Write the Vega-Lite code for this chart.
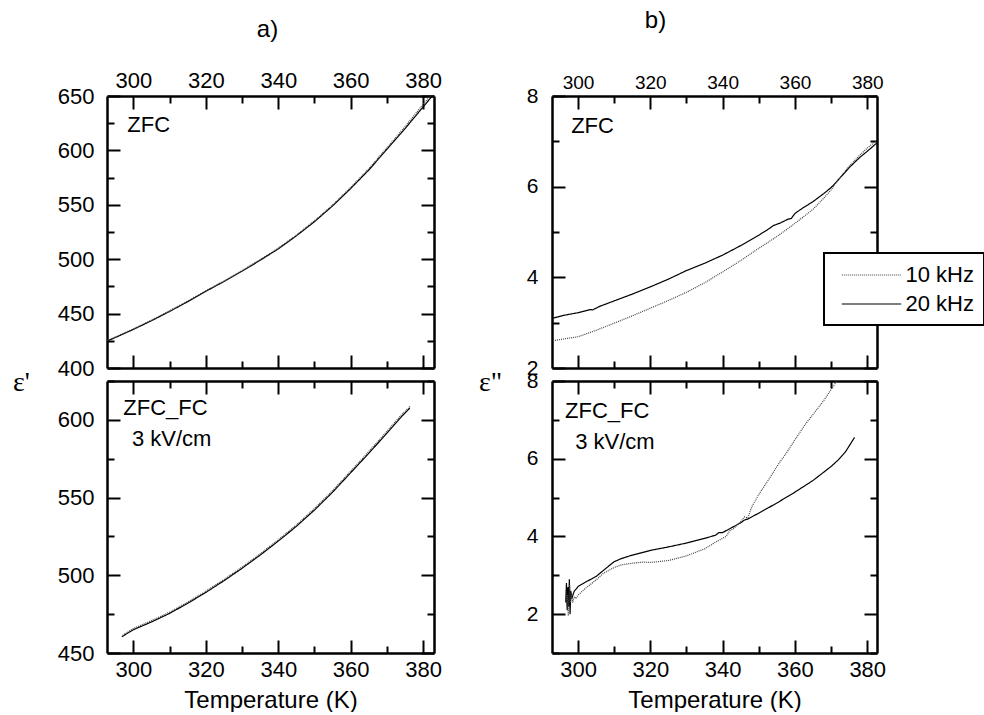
{
"$schema":"https://vega.github.io/schema/vega-lite/v6.json",
"padding":{"left":12,"top":9,"right":0,"bottom":0},
"datasets":{
"tl":[
{"f":"20 kHz","T":292.8,"e":424.8},{"f":"20 kHz","T":295,"e":428},{"f":"20 kHz","T":300,"e":435.5},{"f":"20 kHz","T":305,"e":443.5},{"f":"20 kHz","T":310,"e":452},{"f":"20 kHz","T":315,"e":461},{"f":"20 kHz","T":320,"e":470.5},{"f":"20 kHz","T":325,"e":479.5},{"f":"20 kHz","T":330,"e":489},{"f":"20 kHz","T":335,"e":499},{"f":"20 kHz","T":340,"e":509.5},{"f":"20 kHz","T":345,"e":521.5},{"f":"20 kHz","T":350,"e":534.5},{"f":"20 kHz","T":355,"e":549},{"f":"20 kHz","T":360,"e":565},{"f":"20 kHz","T":365,"e":582},{"f":"20 kHz","T":370,"e":601},{"f":"20 kHz","T":375,"e":620},{"f":"20 kHz","T":380,"e":640},{"f":"20 kHz","T":382.8,"e":651},
{"f":"10 kHz","T":292.8,"e":425.2},{"f":"10 kHz","T":295,"e":428.5},{"f":"10 kHz","T":300,"e":436},{"f":"10 kHz","T":305,"e":444},{"f":"10 kHz","T":310,"e":452.6},{"f":"10 kHz","T":315,"e":461.6},{"f":"10 kHz","T":320,"e":471},{"f":"10 kHz","T":325,"e":480},{"f":"10 kHz","T":330,"e":489.6},{"f":"10 kHz","T":335,"e":499.6},{"f":"10 kHz","T":340,"e":510.2},{"f":"10 kHz","T":345,"e":522.2},{"f":"10 kHz","T":350,"e":535.3},{"f":"10 kHz","T":355,"e":549.8},{"f":"10 kHz","T":360,"e":566},{"f":"10 kHz","T":365,"e":583.2},{"f":"10 kHz","T":370,"e":602.4},{"f":"10 kHz","T":375,"e":621.8},{"f":"10 kHz","T":380,"e":642.5},{"f":"10 kHz","T":382.5,"e":652}
],
"bl":[
{"f":"20 kHz","T":296.8,"e":460.5},{"f":"20 kHz","T":300,"e":465},{"f":"20 kHz","T":305,"e":470},{"f":"20 kHz","T":310,"e":475.5},{"f":"20 kHz","T":315,"e":482},{"f":"20 kHz","T":320,"e":489},{"f":"20 kHz","T":325,"e":496.5},{"f":"20 kHz","T":330,"e":504.5},{"f":"20 kHz","T":335,"e":513},{"f":"20 kHz","T":340,"e":522},{"f":"20 kHz","T":345,"e":531.5},{"f":"20 kHz","T":350,"e":542},{"f":"20 kHz","T":355,"e":553.5},{"f":"20 kHz","T":360,"e":566},{"f":"20 kHz","T":365,"e":578.5},{"f":"20 kHz","T":370,"e":591.5},{"f":"20 kHz","T":374,"e":602},{"f":"20 kHz","T":376.3,"e":607.5},
{"f":"10 kHz","T":297,"e":461.3},{"f":"10 kHz","T":300,"e":465.8},{"f":"10 kHz","T":305,"e":470.8},{"f":"10 kHz","T":310,"e":476.3},{"f":"10 kHz","T":315,"e":482.8},{"f":"10 kHz","T":320,"e":489.8},{"f":"10 kHz","T":325,"e":497.3},{"f":"10 kHz","T":330,"e":505.3},{"f":"10 kHz","T":335,"e":513.8},{"f":"10 kHz","T":340,"e":522.9},{"f":"10 kHz","T":345,"e":532.4},{"f":"10 kHz","T":350,"e":543},{"f":"10 kHz","T":355,"e":554.5},{"f":"10 kHz","T":360,"e":567},{"f":"10 kHz","T":365,"e":579.6},{"f":"10 kHz","T":370,"e":592.7},{"f":"10 kHz","T":374,"e":603.2},{"f":"10 kHz","T":376.5,"e":608.8}
],
"tr":[
{"f":"20 kHz","T":293.1,"e":3.1},{"f":"20 kHz","T":296,"e":3.16},{"f":"20 kHz","T":300,"e":3.22},{"f":"20 kHz","T":303.5,"e":3.29},{"f":"20 kHz","T":304,"e":3.28},{"f":"20 kHz","T":306,"e":3.36},{"f":"20 kHz","T":310,"e":3.48},{"f":"20 kHz","T":315,"e":3.63},{"f":"20 kHz","T":320,"e":3.79},{"f":"20 kHz","T":325,"e":3.96},{"f":"20 kHz","T":330,"e":4.15},{"f":"20 kHz","T":335,"e":4.31},{"f":"20 kHz","T":340,"e":4.49},{"f":"20 kHz","T":345,"e":4.7},{"f":"20 kHz","T":350,"e":4.93},{"f":"20 kHz","T":353,"e":5.08},{"f":"20 kHz","T":354,"e":5.14},{"f":"20 kHz","T":356,"e":5.2},{"f":"20 kHz","T":358,"e":5.28},{"f":"20 kHz","T":359,"e":5.3},{"f":"20 kHz","T":360,"e":5.41},{"f":"20 kHz","T":362,"e":5.52},{"f":"20 kHz","T":365,"e":5.67},{"f":"20 kHz","T":368,"e":5.85},{"f":"20 kHz","T":370,"e":5.98},{"f":"20 kHz","T":372,"e":6.15},{"f":"20 kHz","T":375,"e":6.42},{"f":"20 kHz","T":378,"e":6.65},{"f":"20 kHz","T":380,"e":6.78},{"f":"20 kHz","T":382.6,"e":6.96},
{"f":"10 kHz","T":293.1,"e":2.6},{"f":"10 kHz","T":296,"e":2.64},{"f":"10 kHz","T":300,"e":2.69},{"f":"10 kHz","T":305,"e":2.83},{"f":"10 kHz","T":310,"e":2.99},{"f":"10 kHz","T":315,"e":3.15},{"f":"10 kHz","T":320,"e":3.32},{"f":"10 kHz","T":325,"e":3.49},{"f":"10 kHz","T":330,"e":3.67},{"f":"10 kHz","T":335,"e":3.88},{"f":"10 kHz","T":340,"e":4.12},{"f":"10 kHz","T":345,"e":4.37},{"f":"10 kHz","T":350,"e":4.64},{"f":"10 kHz","T":355,"e":4.9},{"f":"10 kHz","T":360,"e":5.19},{"f":"10 kHz","T":365,"e":5.5},{"f":"10 kHz","T":368,"e":5.75},{"f":"10 kHz","T":370,"e":5.93},{"f":"10 kHz","T":372,"e":6.15},{"f":"10 kHz","T":375,"e":6.45},{"f":"10 kHz","T":378,"e":6.7},{"f":"10 kHz","T":380,"e":6.85},{"f":"10 kHz","T":382.3,"e":7.0}
],
"br":[
{"f":"20 kHz","T":296.6,"e":2.3},{"f":"20 kHz","T":296.8,"e":2.8},{"f":"20 kHz","T":297.0,"e":2.1},{"f":"20 kHz","T":297.2,"e":2.7},{"f":"20 kHz","T":297.4,"e":2.2},{"f":"20 kHz","T":297.6,"e":2.9},{"f":"20 kHz","T":297.8,"e":2.0},{"f":"20 kHz","T":298.0,"e":2.6},{"f":"20 kHz","T":298.3,"e":2.4},{"f":"20 kHz","T":298.6,"e":2.5},{"f":"20 kHz","T":299,"e":2.6},{"f":"20 kHz","T":299.5,"e":2.65},{"f":"20 kHz","T":300,"e":2.71},{"f":"20 kHz","T":302,"e":2.82},{"f":"20 kHz","T":305,"e":2.97},{"f":"20 kHz","T":308,"e":3.2},{"f":"20 kHz","T":310,"e":3.35},{"f":"20 kHz","T":312,"e":3.43},{"f":"20 kHz","T":315,"e":3.52},{"f":"20 kHz","T":320,"e":3.64},{"f":"20 kHz","T":325,"e":3.73},{"f":"20 kHz","T":330,"e":3.83},{"f":"20 kHz","T":335,"e":3.95},{"f":"20 kHz","T":338,"e":4.03},{"f":"20 kHz","T":339,"e":4.1},{"f":"20 kHz","T":340,"e":4.1},{"f":"20 kHz","T":342,"e":4.2},{"f":"20 kHz","T":345,"e":4.35},{"f":"20 kHz","T":346,"e":4.42},{"f":"20 kHz","T":347,"e":4.45},{"f":"20 kHz","T":348,"e":4.5},{"f":"20 kHz","T":350,"e":4.6},{"f":"20 kHz","T":355,"e":4.86},{"f":"20 kHz","T":360,"e":5.14},{"f":"20 kHz","T":365,"e":5.44},{"f":"20 kHz","T":370,"e":5.8},{"f":"20 kHz","T":372,"e":5.97},{"f":"20 kHz","T":374,"e":6.18},{"f":"20 kHz","T":376.5,"e":6.55},
{"f":"10 kHz","T":296.7,"e":2.6},{"f":"10 kHz","T":296.9,"e":2.2},{"f":"10 kHz","T":297.1,"e":2.5},{"f":"10 kHz","T":297.3,"e":1.95},{"f":"10 kHz","T":297.5,"e":2.4},{"f":"10 kHz","T":297.7,"e":2.75},{"f":"10 kHz","T":297.9,"e":2.3},{"f":"10 kHz","T":298.2,"e":2.5},{"f":"10 kHz","T":298.5,"e":2.3},{"f":"10 kHz","T":299,"e":2.45},{"f":"10 kHz","T":299.5,"e":2.4},{"f":"10 kHz","T":300,"e":2.49},{"f":"10 kHz","T":302,"e":2.66},{"f":"10 kHz","T":305,"e":2.88},{"f":"10 kHz","T":307,"e":3.05},{"f":"10 kHz","T":310,"e":3.2},{"f":"10 kHz","T":312,"e":3.27},{"f":"10 kHz","T":315,"e":3.31},{"f":"10 kHz","T":318,"e":3.34},{"f":"10 kHz","T":320,"e":3.33},{"f":"10 kHz","T":325,"e":3.38},{"f":"10 kHz","T":330,"e":3.5},{"f":"10 kHz","T":335,"e":3.68},{"f":"10 kHz","T":338,"e":3.85},{"f":"10 kHz","T":340,"e":3.95},{"f":"10 kHz","T":341,"e":4.0},{"f":"10 kHz","T":342,"e":4.15},{"f":"10 kHz","T":343,"e":4.2},{"f":"10 kHz","T":345,"e":4.38},{"f":"10 kHz","T":346,"e":4.5},{"f":"10 kHz","T":347,"e":4.48},{"f":"10 kHz","T":348,"e":4.75},{"f":"10 kHz","T":350,"e":5.08},{"f":"10 kHz","T":353,"e":5.5},{"f":"10 kHz","T":355,"e":5.8},{"f":"10 kHz","T":358,"e":6.2},{"f":"10 kHz","T":360,"e":6.49},{"f":"10 kHz","T":363,"e":6.9},{"f":"10 kHz","T":365,"e":7.14},{"f":"10 kHz","T":368,"e":7.5},{"f":"10 kHz","T":370,"e":7.78},{"f":"10 kHz","T":373,"e":8.2}
],
"notes":[
{"panel":"tl","T":298.3,"e":617,"label":"ZFC"},
{"panel":"bl","T":297.2,"e":603.3,"label":"ZFC_FC"},
{"panel":"bl","T":299.6,"e":583.3,"label":"3 kV/cm"},
{"panel":"tr","T":298.1,"e":7.18,"label":"ZFC"},
{"panel":"br","T":296.4,"e":7.04,"label":"ZFC_FC"},
{"panel":"br","T":299.2,"e":6.24,"label":"3 kV/cm"}
]
},
"resolve":{"scale":{"color":"independent","strokeDash":"independent"},"legend":{"color":"independent","strokeDash":"independent"}},
"hconcat":[
{"vconcat":[
{"width":327,"height":272,
"title":{"text":"a)","fontSize":24,"offset":21,"frame":"group","dx":-3},
"layer":[
{"data":{"name":"tl"},"mark":{"type":"line","clip":true,"strokeWidth":1.2},
"encoding":{
"x":{"field":"T","type":"quantitative","scale":{"domain":[292.7,383],"nice":false,"zero":false},
"axis":{"orient":"top","title":null,"values":[300,310,320,330,340,350,360,370,380],"labelExpr":"datum.value % 20 == 0 ? datum.label : ''","tickSize":{"condition":{"test":"datum.value % 20 != 0","value":-7},"value":-13},"labelFontSize":22,"labelPadding":17}},
"y":{"field":"e","type":"quantitative","scale":{"domain":[400,650],"nice":false,"zero":false},
"axis":{"orient":"left","title":"ε'","titleAngle":0,"titleX":-86,"titleY":286,"titleAlign":"center","titleBaseline":"middle","titleFont":"Liberation Serif","titleFontSize":28,"values":[400,425,450,475,500,525,550,575,600,625,650],"labelExpr":"datum.value % 50 == 0 ? datum.label : ''","tickSize":{"condition":{"test":"datum.value % 50 != 0","value":-7},"value":-13},"labelFontSize":22,"labelPadding":26}},
"color":{"field":"f","type":"nominal","scale":{"domain":["10 kHz","20 kHz"],"range":["#444444","#000000"]},"legend":null},
"strokeDash":{"field":"f","type":"nominal","scale":{"domain":["10 kHz","20 kHz"],"range":[[1,1],[1,0]]},"legend":null}}},
{"data":{"name":"notes"},"transform":[{"filter":"datum.panel == 'tl'"}],"mark":{"type":"text","align":"left","baseline":"alphabetic","fontSize":22,"font":"Liberation Sans","color":"black"},
"encoding":{
"x":{"field":"T","type":"quantitative","scale":{"domain":[292.7,383],"nice":false,"zero":false},
"axis":{"orient":"bottom","title":null,"labels":false,"values":[300,310,320,330,340,350,360,370,380],"tickSize":{"condition":{"test":"datum.value % 20 != 0","value":-7},"value":-13}}},
"y":{"field":"e","type":"quantitative","scale":{"domain":[400,650],"nice":false,"zero":false},
"axis":{"orient":"right","title":null,"labels":false,"values":[400,425,450,475,500,525,550,575,600,625,650],"tickSize":{"condition":{"test":"datum.value % 50 != 0","value":-7},"value":-13}}},
"text":{"field":"label"}}}
],
"resolve":{"scale":{"x":"independent","y":"independent"}}
},
{"width":327,"height":272,
"layer":[
{"data":{"name":"bl"},"mark":{"type":"line","clip":true,"strokeWidth":1.2},
"encoding":{
"x":{"field":"T","type":"quantitative","scale":{"domain":[292.7,383],"nice":false,"zero":false},
"axis":{"orient":"bottom","title":"Temperature (K)","titleFontSize":24,"titlePadding":2,"values":[300,310,320,330,340,350,360,370,380],"labelExpr":"datum.value % 20 == 0 ? datum.label : ''","tickSize":{"condition":{"test":"datum.value % 20 != 0","value":-7},"value":-13},"labelFontSize":22,"labelPadding":19}},
"y":{"field":"e","type":"quantitative","scale":{"domain":[450,625],"nice":false,"zero":false},
"axis":{"orient":"left","title":null,"values":[450,475,500,525,550,575,600,625],"labelExpr":"datum.value % 50 == 0 ? datum.label : ''","tickSize":{"condition":{"test":"datum.value % 50 != 0","value":-7},"value":-13},"labelFontSize":22,"labelPadding":26}},
"color":{"field":"f","type":"nominal","scale":{"domain":["10 kHz","20 kHz"],"range":["#444444","#000000"]},"legend":null},
"strokeDash":{"field":"f","type":"nominal","scale":{"domain":["10 kHz","20 kHz"],"range":[[1,1],[1,0]]},"legend":null}}},
{"data":{"name":"notes"},"transform":[{"filter":"datum.panel == 'bl'"}],"mark":{"type":"text","align":"left","baseline":"alphabetic","fontSize":22,"font":"Liberation Sans","color":"black"},
"encoding":{
"x":{"field":"T","type":"quantitative","scale":{"domain":[292.7,383],"nice":false,"zero":false},
"axis":{"orient":"top","title":null,"labels":false,"values":[300,310,320,330,340,350,360,370,380],"tickSize":{"condition":{"test":"datum.value % 20 != 0","value":-7},"value":-13}}},
"y":{"field":"e","type":"quantitative","scale":{"domain":[450,625],"nice":false,"zero":false},
"axis":{"orient":"right","title":null,"labels":false,"values":[450,475,500,525,550,575,600,625],"tickSize":{"condition":{"test":"datum.value % 50 != 0","value":-7},"value":-13}}},
"text":{"field":"label"}}}
],
"resolve":{"scale":{"x":"independent","y":"independent"}}
}
],
"spacing":13,"bounds":"flush",
"resolve":{"scale":{"color":"independent","strokeDash":"independent"},"legend":{"color":"independent","strokeDash":"independent"}}
},
{"vconcat":[
{"width":325,"height":272,
"title":{"text":"b)","fontSize":24,"offset":34,"frame":"group","dx":-59},
"layer":[
{"data":{"name":"tr"},"mark":{"type":"line","clip":true,"strokeWidth":1.2},
"encoding":{
"x":{"field":"T","type":"quantitative","scale":{"domain":[292.8,382.7],"nice":false,"zero":false},
"axis":{"orient":"top","title":null,"values":[300,310,320,330,340,350,360,370,380],"labelExpr":"datum.value % 20 == 0 ? datum.label : ''","tickSize":{"condition":{"test":"datum.value % 20 != 0","value":-7},"value":-13},"labelFontSize":19,"labelPadding":17}},
"y":{"field":"e","type":"quantitative","scale":{"domain":[2,8],"nice":false,"zero":false},
"axis":{"orient":"left","title":"ε\"","titleAngle":0,"titleX":-62,"titleY":286,"titleAlign":"center","titleBaseline":"middle","titleFont":"Liberation Serif","titleFontSize":28,"values":[2,3,4,5,6,7,8],"labelExpr":"datum.value % 2 == 0 ? datum.label : ''","tickSize":{"condition":{"test":"datum.value % 2 != 0","value":-7},"value":-13},"labelFontSize":21,"labelPadding":27}},
"color":{"field":"f","type":"nominal","scale":{"domain":["10 kHz","20 kHz"],"range":["#444444","#000000"]},
"legend":{"title":null,"orient":"none","legendX":272,"legendY":157,"symbolType":"M-2.7,0H2.7","symbolSize":484,"symbolStrokeWidth":1.2,"labelFontSize":22,"labelFont":"Liberation Sans","labelColor":"black","padding":10,"symbolOffset":25.5,"rowPadding":6,"strokeColor":"black","fillColor":"white","labelOffset":22}},
"strokeDash":{"field":"f","type":"nominal","scale":{"domain":["10 kHz","20 kHz"],"range":[[1,1],[1,0]]},
"legend":{"title":null,"orient":"none","legendX":272,"legendY":157,"symbolType":"M-2.7,0H2.7","symbolSize":484,"symbolStrokeWidth":1.2,"labelFontSize":22,"labelFont":"Liberation Sans","labelColor":"black","padding":10,"symbolOffset":25.5,"rowPadding":6,"strokeColor":"black","fillColor":"white","labelOffset":22}}}},
{"data":{"name":"notes"},"transform":[{"filter":"datum.panel == 'tr'"}],"mark":{"type":"text","align":"left","baseline":"alphabetic","fontSize":22,"font":"Liberation Sans","color":"black"},
"encoding":{
"x":{"field":"T","type":"quantitative","scale":{"domain":[292.8,382.7],"nice":false,"zero":false},
"axis":{"orient":"bottom","title":null,"labels":false,"values":[300,310,320,330,340,350,360,370,380],"tickSize":{"condition":{"test":"datum.value % 20 != 0","value":-7},"value":-13}}},
"y":{"field":"e","type":"quantitative","scale":{"domain":[2,8],"nice":false,"zero":false},
"axis":{"orient":"right","title":null,"labels":false,"values":[2,3,4,5,6,7,8],"tickSize":{"condition":{"test":"datum.value % 2 != 0","value":-7},"value":-13}}},
"text":{"field":"label"}}}
],
"resolve":{"scale":{"x":"independent","y":"independent"}}
},
{"width":325,"height":272,
"layer":[
{"data":{"name":"br"},"mark":{"type":"line","clip":true,"strokeWidth":1.2},
"encoding":{
"x":{"field":"T","type":"quantitative","scale":{"domain":[292.8,382.7],"nice":false,"zero":false},
"axis":{"orient":"bottom","title":"Temperature (K)","titleFontSize":24,"titlePadding":2,"values":[300,310,320,330,340,350,360,370,380],"labelExpr":"datum.value % 20 == 0 ? datum.label : ''","tickSize":{"condition":{"test":"datum.value % 20 != 0","value":-7},"value":-13},"labelFontSize":22,"labelPadding":19}},
"y":{"field":"e","type":"quantitative","scale":{"domain":[1,8],"nice":false,"zero":false},
"axis":{"orient":"left","title":null,"values":[1,2,3,4,5,6,7,8],"labelExpr":"datum.value % 2 == 0 ? datum.label : ''","tickSize":{"condition":{"test":"datum.value % 2 != 0","value":-7},"value":-13},"labelFontSize":21,"labelPadding":27}},
"color":{"field":"f","type":"nominal","scale":{"domain":["10 kHz","20 kHz"],"range":["#444444","#000000"]},"legend":null},
"strokeDash":{"field":"f","type":"nominal","scale":{"domain":["10 kHz","20 kHz"],"range":[[1,1],[1,0]]},"legend":null}}},
{"data":{"name":"notes"},"transform":[{"filter":"datum.panel == 'br'"}],"mark":{"type":"text","align":"left","baseline":"alphabetic","fontSize":22,"font":"Liberation Sans","color":"black"},
"encoding":{
"x":{"field":"T","type":"quantitative","scale":{"domain":[292.8,382.7],"nice":false,"zero":false},
"axis":{"orient":"top","title":null,"labels":false,"values":[300,310,320,330,340,350,360,370,380],"tickSize":{"condition":{"test":"datum.value % 20 != 0","value":-7},"value":-13}}},
"y":{"field":"e","type":"quantitative","scale":{"domain":[1,8],"nice":false,"zero":false},
"axis":{"orient":"right","title":null,"labels":false,"values":[1,2,3,4,5,6,7,8],"tickSize":{"condition":{"test":"datum.value % 2 != 0","value":-7},"value":-13}}},
"text":{"field":"label"}}}
],
"resolve":{"scale":{"x":"independent","y":"independent"}}
}
],
"spacing":13,"bounds":"flush",
"resolve":{"scale":{"color":"independent","strokeDash":"independent"},"legend":{"color":"independent","strokeDash":"independent"}}
}
],
"spacing":36,
"config":{
"font":"Liberation Sans",
"view":{"stroke":null},
"axis":{"domainColor":"black","domainWidth":2.5,"tickColor":"black","tickWidth":2,"labelColor":"black","labelFont":"Liberation Sans","titleFont":"Liberation Sans","titleColor":"black","titleFontWeight":"normal","grid":false,"labelOverlap":false,"labelFlush":false,"labelBound":false},
"title":{"color":"black","font":"Liberation Sans","fontWeight":"normal"},
"legend":{"strokeWidth":2}
}
}
